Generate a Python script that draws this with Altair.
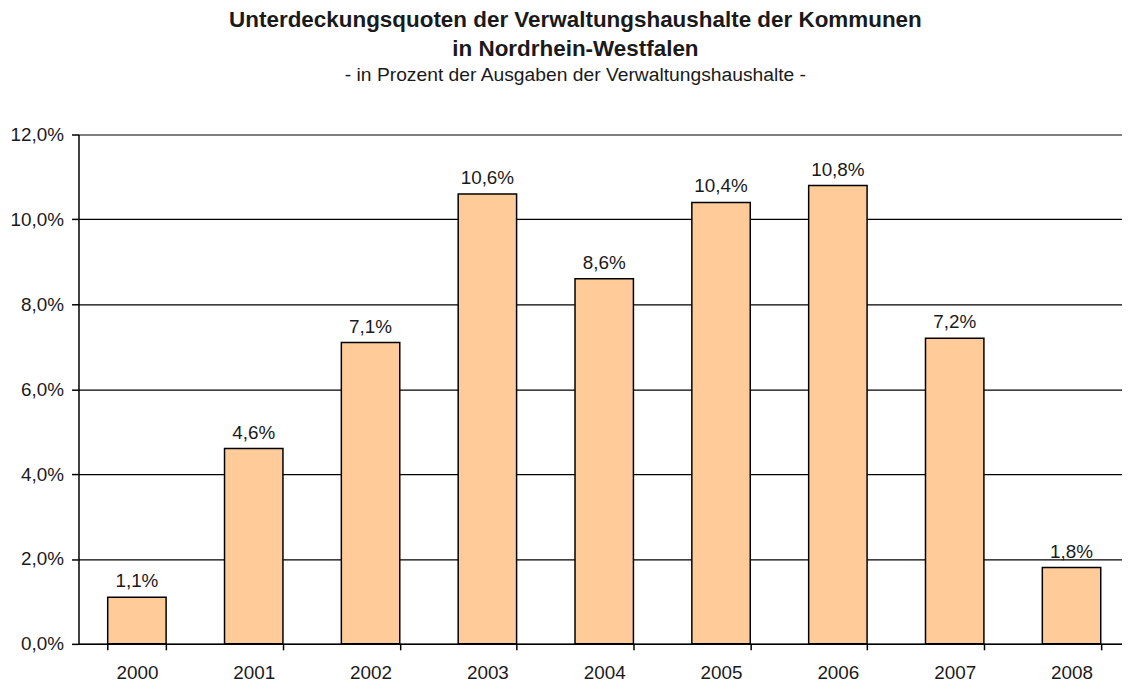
import altair as alt
import pandas as pd

years = ["2000", "2001", "2002", "2003", "2004", "2005", "2006", "2007", "2008"]
values = [1.1, 4.6, 7.1, 10.6, 8.6, 10.4, 10.8, 7.2, 1.8]
labels = ["1,1%", "4,6%", "7,1%", "10,6%", "8,6%", "10,4%", "10,8%", "7,2%", "1,8%"]

df = pd.DataFrame({"Jahr": years, "Wert": values, "Label": labels})

FONT = "Liberation Sans"
TXT = "#1a1a1a"

x = alt.X(
    "Jahr:N",
    sort=years,
    title=None,
    scale=alt.Scale(range=[0, 1059], paddingInner=0.5, paddingOuter=0.25),
    axis=alt.Axis(
        labelAngle=0,
        labelFontSize=19,
        labelFont=FONT,
        labelColor=TXT,
        labelPadding=14,
        tickBand="extent",
        tickSize=6,
        tickColor="#000000",
        tickWidth=1.5,
        domainColor="#000000",
        domainWidth=1.5,
        grid=False,
    ),
)

y = alt.Y(
    "Wert:Q",
    title=None,
    scale=alt.Scale(domain=[0, 12], nice=False),
    axis=alt.Axis(
        values=[0, 2, 4, 6, 8, 10, 12],
        labelExpr="replace(format(datum.value, '.1f'), '.', ',') + '%'",
        labelFontSize=19,
        labelFont=FONT,
        labelColor=TXT,
        labelPadding=8,
        tickSize=7,
        tickColor="#000000",
        tickWidth=1.5,
        domainColor="#000000",
        domainWidth=1.5,
        grid=True,
        gridColor="#000000",
        gridWidth=1.2,
    ),
)

bars = alt.Chart(df).mark_bar(
    color="#FFCC99", stroke="#000000", strokeWidth=1.5
).encode(x=x, y=y)

text = alt.Chart(df).mark_text(
    dy=-10, baseline="alphabetic", fontSize=19, font=FONT, color=TXT
).encode(x=alt.X("Jahr:N", sort=years), y="Wert:Q", text="Label:N")

chart = (
    alt.layer(bars, text)
    .properties(
        width=1051,
        height=513,
        padding={"left": 71, "top": 125, "right": 0, "bottom": 37},
        autosize=alt.AutoSizeParams(type="none"),
        title=alt.TitleParams(
            text=["Unterdeckungsquoten der Verwaltungshaushalte der Kommunen", "in Nordrhein-Westfalen"],
            subtitle="- in Prozent der Ausgaben der Verwaltungshaushalte -",
            font=FONT,
            fontSize=22.6,
            fontWeight="bold",
            color=TXT,
            lineHeight=29,
            subtitleFont=FONT,
            subtitleFontSize=19.4,
            subtitleColor=TXT,
            subtitleLineHeight=20,
            subtitlePadding=5,
            anchor="middle",
            dx=-25,
            offset=42,
        ),
    )
    .configure_view(stroke=None)
)

chart.save("out.html", embed_options={"renderer": "svg", "actions": False})
